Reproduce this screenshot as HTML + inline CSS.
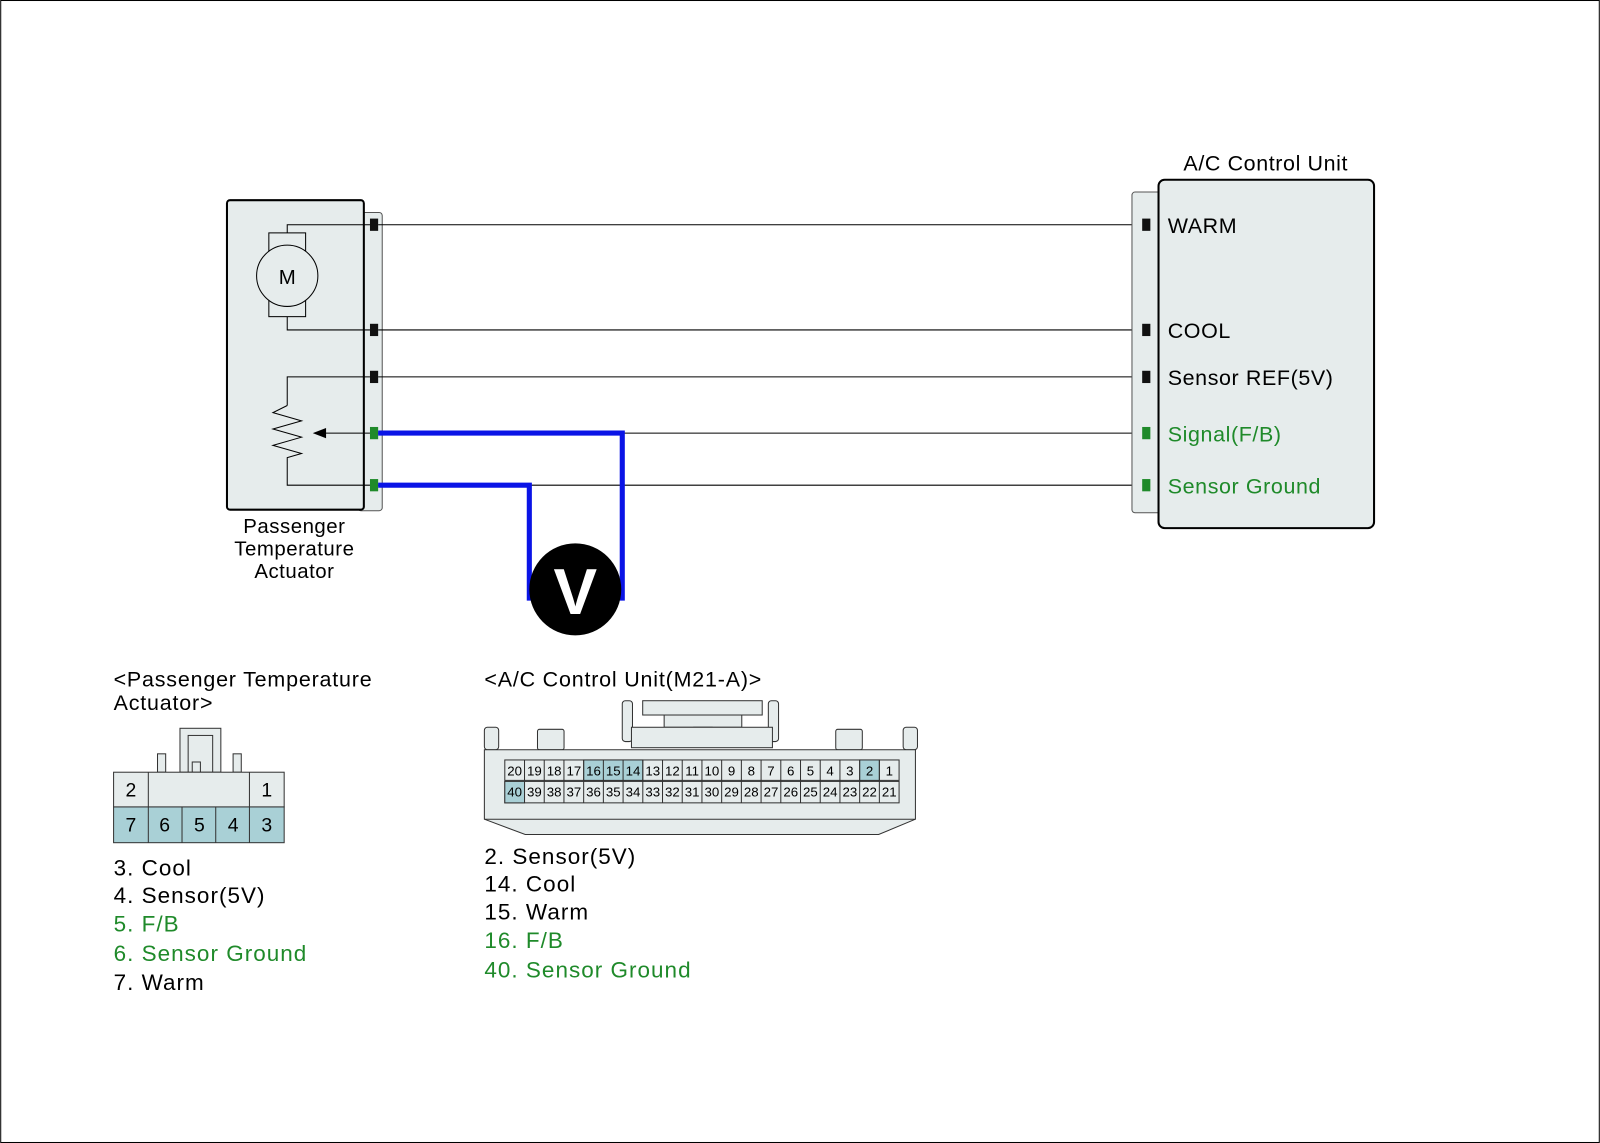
<!DOCTYPE html>
<html><head><meta charset="utf-8"><style>
html,body{margin:0;padding:0;background:#fff;}
svg{display:block;}
text{font-family:"Liberation Sans",Arial,sans-serif;}
</style></head><body>
<svg width="1600" height="1143" viewBox="0 0 1566 1119" xmlns="http://www.w3.org/2000/svg">
<rect x="0.5" y="0.5" width="1565" height="1118" fill="#fff" stroke="#000" stroke-width="1"/>

<!-- Actuator -->
<rect x="350" y="208" width="24" height="292" rx="3" fill="#e6ecec" stroke="#555" stroke-width="1"/>
<rect x="222" y="196" width="134" height="303" rx="3" fill="#e6ecec" stroke="#000" stroke-width="2"/>
<g fill="none" stroke="#000" stroke-width="1">
<polyline points="362,220 281,220 281,228"/>
<rect x="263" y="228" width="36" height="82" fill="#e6ecec"/>
<circle cx="281" cy="270" r="30" fill="#e6ecec"/>
<polyline points="281,310 281,323 362,323"/>
<polyline points="362,369 281,369 281,397"/>
<polyline points="281,397 267,404 295,412 267,420 295,428 267,436 295,444 281,448 281,475 362,475"/>
<line x1="318" y1="424" x2="362" y2="424"/>
</g>
<polygon points="306,424 319,419 319,429" fill="#000"/>
<text x="281" y="278" font-size="20" text-anchor="middle">M</text>
<rect x="362" y="214" width="8" height="12" fill="#111"/>
<rect x="362" y="317" width="8" height="12" fill="#111"/>
<rect x="362" y="363" width="8" height="12" fill="#111"/>
<rect x="362" y="418" width="8" height="12" fill="#1f8a2a"/>
<rect x="362" y="469" width="8" height="12" fill="#1f8a2a"/>
<text font-size="20" letter-spacing="0.5" text-anchor="middle"><tspan x="288" y="522">Passenger</tspan><tspan x="288" y="544">Temperature</tspan><tspan x="288" y="566">Actuator</tspan></text>

<!-- wires -->
<g stroke="#000" stroke-width="1">
<line x1="370" y1="220" x2="1118" y2="220"/>
<line x1="370" y1="323" x2="1118" y2="323"/>
<line x1="370" y1="369" x2="1118" y2="369"/>
<line x1="370" y1="424" x2="1118" y2="424"/>
<line x1="370" y1="475" x2="1118" y2="475"/>
</g>
<g fill="none" stroke="#0a14e6" stroke-width="5">
<polyline points="370,424 609,424 609,588"/>
<polyline points="370,475 518,475 518,588"/>
</g>
<circle cx="563" cy="577" r="45" fill="#000"/>
<text x="563" y="601" font-size="64" font-weight="bold" fill="#fff" text-anchor="middle">V</text>

<!-- ACU -->
<rect x="1108" y="188" width="30" height="314" rx="3" fill="#e6ecec" stroke="#555" stroke-width="1"/>
<rect x="1134" y="176" width="211" height="341" rx="6" fill="#e6ecec" stroke="#000" stroke-width="2"/>
<text x="1239" y="167" font-size="21" letter-spacing="0.6" text-anchor="middle">A/C Control Unit</text>
<rect x="1118" y="214" width="8" height="12" fill="#111"/>
<rect x="1118" y="317" width="8" height="12" fill="#111"/>
<rect x="1118" y="363" width="8" height="12" fill="#111"/>
<rect x="1118" y="418" width="8" height="12" fill="#1f8a2a"/>
<rect x="1118" y="469" width="8" height="12" fill="#1f8a2a"/>
<g font-size="21" letter-spacing="0.6">
<text x="1143" y="228">WARM</text>
<text x="1143" y="331">COOL</text>
<text x="1143" y="377">Sensor REF(5V)</text>
<text x="1143" y="432" fill="#1f8a2a">Signal(F/B)</text>
<text x="1143" y="483" fill="#1f8a2a">Sensor Ground</text>
</g>

<!-- Actuator connector -->
<text font-size="21" letter-spacing="0.8"><tspan x="111" y="672">&lt;Passenger Temperature</tspan><tspan x="111" y="695">Actuator&gt;</tspan></text>
<g stroke="#333" stroke-width="1">
<rect x="176" y="713" width="40" height="43" fill="#e6ecec"/>
<rect x="184" y="720" width="24" height="36" fill="#e6ecec"/>
<rect x="188" y="746" width="8" height="10" fill="#e6ecec"/>
<rect x="154" y="738" width="8" height="18" fill="#e6ecec"/>
<rect x="228" y="738" width="8" height="18" fill="#e6ecec"/>
<rect x="111" y="756" width="167" height="34" fill="#e6ecec"/>
<line x1="145" y1="756" x2="145" y2="790"/>
<line x1="244" y1="756" x2="244" y2="790"/>
<rect x="111" y="790" width="167" height="35" fill="#a9d0d6"/>
<line x1="145" y1="790" x2="145" y2="825"/>
<line x1="178" y1="790" x2="178" y2="825"/>
<line x1="211" y1="790" x2="211" y2="825"/>
<line x1="244" y1="790" x2="244" y2="825"/>
</g>
<g font-size="19" text-anchor="middle">
<text x="128" y="780">2</text><text x="261" y="780">1</text>
<text x="128" y="814">7</text><text x="161" y="814">6</text><text x="195" y="814">5</text><text x="228" y="814">4</text><text x="261" y="814">3</text>
</g>
<g font-size="22" letter-spacing="1">
<text x="111" y="857">3. Cool</text>
<text x="111" y="884">4. Sensor(5V)</text>
<text x="111" y="912" fill="#1f8a2a">5. F/B</text>
<text x="111" y="941" fill="#1f8a2a">6. Sensor Ground</text>
<text x="111" y="969">7. Warm</text>
</g>

<!-- ACU connector -->
<text x="474" y="672" font-size="21" letter-spacing="0.8">&lt;A/C Control Unit(M21-A)&gt;</text>
<g stroke="#333" stroke-width="1" fill="#e6ecec">
<rect x="629" y="686" width="117" height="14"/>
<rect x="650" y="700" width="76" height="12"/>
<rect x="679" y="712" width="18" height="8"/>
<rect x="609" y="686" width="10" height="40" rx="3"/>
<rect x="752" y="686" width="10" height="40" rx="3"/>
<rect x="618" y="712" width="138" height="20"/>
<rect x="526" y="714" width="26" height="20" rx="2"/>
<rect x="818" y="714" width="26" height="20" rx="2"/>
<rect x="474" y="712" width="14" height="22" rx="3"/>
<rect x="884" y="712" width="14" height="22" rx="3"/>
<path d="M474,734 L896,734 L896,802 L860,817 L514,817 L474,802 Z"/>
<line x1="474" y1="802" x2="896" y2="802"/>
</g>
<g stroke="#333" stroke-width="1" fill="#e6ecec">
<rect x="494" y="744" width="386" height="20"/>
<rect x="494" y="765" width="386" height="21"/>
<rect x="571.2" y="744" width="57.9" height="20" fill="#a9d0d6"/>
<rect x="841.4" y="744" width="19.3" height="20" fill="#a9d0d6"/>
<rect x="494" y="765" width="19.3" height="21" fill="#a9d0d6"/>
<path d="M513.3,744V786M532.6,744V786M551.9,744V786M571.2,744V786M590.5,744V786M609.8,744V786M629.1,744V786M648.4,744V786M667.7,744V786M687,744V786M706.3,744V786M725.6,744V786M744.9,744V786M764.2,744V786M783.5,744V786M802.8,744V786M822.1,744V786M841.4,744V786M860.7,744V786" fill="none"/>
</g>
<g font-size="13" text-anchor="middle">
<text x="503.6" y="759">20</text><text x="523" y="759">19</text><text x="542.3" y="759">18</text><text x="561.6" y="759">17</text><text x="580.9" y="759">16</text><text x="600.2" y="759">15</text><text x="619.5" y="759">14</text><text x="638.8" y="759">13</text><text x="658.1" y="759">12</text><text x="677.4" y="759">11</text><text x="696.7" y="759">10</text><text x="716" y="759">9</text><text x="735.3" y="759">8</text><text x="754.6" y="759">7</text><text x="773.9" y="759">6</text><text x="793.2" y="759">5</text><text x="812.5" y="759">4</text><text x="831.8" y="759">3</text><text x="851.1" y="759">2</text><text x="870.4" y="759">1</text>
<text x="503.6" y="780">40</text><text x="523" y="780">39</text><text x="542.3" y="780">38</text><text x="561.6" y="780">37</text><text x="580.9" y="780">36</text><text x="600.2" y="780">35</text><text x="619.5" y="780">34</text><text x="638.8" y="780">33</text><text x="658.1" y="780">32</text><text x="677.4" y="780">31</text><text x="696.7" y="780">30</text><text x="716" y="780">29</text><text x="735.3" y="780">28</text><text x="754.6" y="780">27</text><text x="773.9" y="780">26</text><text x="793.2" y="780">25</text><text x="812.5" y="780">24</text><text x="831.8" y="780">23</text><text x="851.1" y="780">22</text><text x="870.4" y="780">21</text>
</g>
<g font-size="22" letter-spacing="1">
<text x="474" y="846">2. Sensor(5V)</text>
<text x="474" y="873">14. Cool</text>
<text x="474" y="900">15. Warm</text>
<text x="474" y="928" fill="#1f8a2a">16. F/B</text>
<text x="474" y="957" fill="#1f8a2a">40. Sensor Ground</text>
</g>
</svg>
</body></html>
